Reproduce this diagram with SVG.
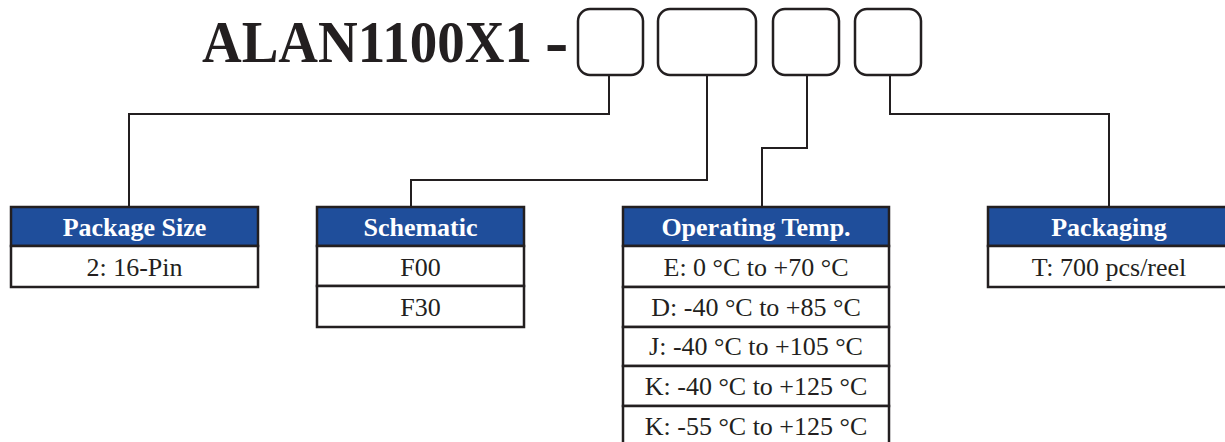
<svg xmlns="http://www.w3.org/2000/svg" width="1225" height="442" viewBox="0 0 1225 442">
<style>
.slot{fill:#fff;stroke:#231f20;stroke-width:2.5}
.hdr{fill:#1f4e9b;stroke:#231f20;stroke-width:2.5}
.row{fill:#fff;stroke:#231f20;stroke-width:2.5}
.ht{font-family:"Liberation Serif",serif;font-weight:bold;font-size:26px;fill:#fff;text-anchor:middle}
.bt{font-family:"Liberation Serif",serif;font-size:26px;fill:#231f20;text-anchor:middle}
.conn{fill:none;stroke:#231f20;stroke-width:2}
</style>
<rect width="1225" height="442" fill="#fff"/>
<g id="title">
<text x="202" y="57.9" transform="scale(1,1.07)" font-family="Liberation Serif, serif" font-weight="bold" font-size="55" fill="#231f20">ALAN1100X1</text>
<text x="545" y="65" font-family="Liberation Serif, serif" font-weight="bold" font-size="70" fill="#231f20">-</text>
</g>
<g id="slots">
<rect class="slot" x="578" y="9" width="65" height="66" rx="12"/>
<rect class="slot" x="658" y="9" width="98" height="66" rx="12"/>
<rect class="slot" x="773" y="9" width="66" height="66" rx="12"/>
<rect class="slot" x="855" y="9" width="66" height="66" rx="12"/>
</g>
<g id="connectors">
<polyline class="conn" points="609,75 609,114 129,114 129,207"/>
<polyline class="conn" points="707,75 707,180 411,180 411,207"/>
<polyline class="conn" points="807,75 807,148 762,148 762,207"/>
<polyline class="conn" points="890,75 890,114 1109,114 1109,207"/>
</g>
<g id="package-size">
<rect class="hdr" x="11" y="207" width="247" height="39"/>
<rect class="row" x="11" y="246" width="247" height="41"/>
<text class="ht" x="134.5" y="236">Package Size</text>
<text class="bt" x="134.5" y="276">2: 16-Pin</text>
</g>
<g id="schematic">
<rect class="hdr" x="317" y="207" width="207" height="39"/>
<rect class="row" x="317" y="246" width="207" height="40"/>
<rect class="row" x="317" y="286" width="207" height="41"/>
<text class="ht" x="420.5" y="236">Schematic</text>
<text class="bt" x="420.5" y="276">F00</text>
<text class="bt" x="420.5" y="316">F30</text>
</g>
<g id="operating-temp">
<rect class="hdr" x="623" y="207" width="266" height="39"/>
<rect class="row" x="623" y="246" width="266" height="41"/>
<rect class="row" x="623" y="287" width="266" height="40"/>
<rect class="row" x="623" y="327" width="266" height="39"/>
<rect class="row" x="623" y="366" width="266" height="40"/>
<rect class="row" x="623" y="406" width="266" height="40"/>
<text class="ht" x="756" y="236">Operating Temp.</text>
<text class="bt" x="756" y="276">E: 0 °C to +70 °C</text>
<text class="bt" x="756" y="316">D: -40 °C to +85 °C</text>
<text class="bt" x="756" y="355">J: -40 °C to +105 °C</text>
<text class="bt" x="756" y="395">K: -40 °C to +125 °C</text>
<text class="bt" x="756" y="435">K: -55 °C to +125 °C</text>
</g>
<g id="packaging">
<rect class="hdr" x="988" y="207" width="242" height="39"/>
<rect class="row" x="988" y="246" width="242" height="41"/>
<text class="ht" x="1109" y="236">Packaging</text>
<text class="bt" x="1109" y="276">T: 700 pcs/reel</text>
</g>
</svg>
